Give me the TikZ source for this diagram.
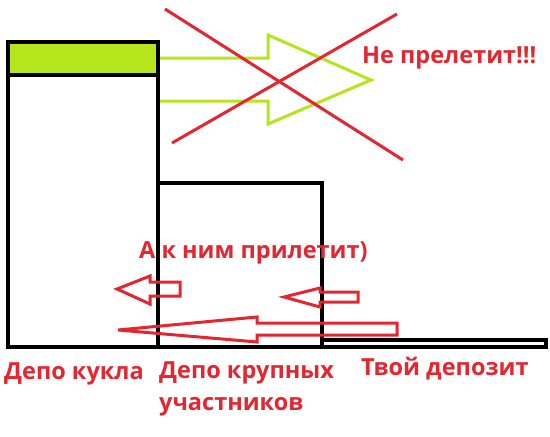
\documentclass[tikz,border=0pt]{standalone}
\usepackage{fontspec}
\setmainfont{Open Sans}
\begin{document}
\begin{tikzpicture}[x=1pt,y=-1pt,
  blk/.style={draw=black,line width=4pt},
  redarrow/.style={draw=myred,line width=3pt,line join=miter},
  grarrow/.style={draw=mygreen,line width=3pt},
  redline/.style={draw=myred,line width=3pt},
  lbl/.style={text=myred,font=\fontsize{23.5}{32}\selectfont\bfseries,inner sep=0pt,anchor=base west}]
\definecolor{myred}{RGB}{228,38,48}
\definecolor{mygreen}{RGB}{181,230,29}
\useasboundingbox[fill=white] (0,0) rectangle (550,437);
% boxes
\fill[mygreen] (8,42) rectangle (158,75);
\draw[blk] (8,42) rectangle (158,347);
\draw[blk] (8,75) -- (158,75);
\draw[blk] (158,183) rectangle (322,347);
\draw[blk,line width=3.5pt] (322,340) rectangle (546,347);
% green arrow
\draw[grarrow] (160,58) -- (268,58) -- (268,35) -- (371,80) -- (268,124) -- (268,101) -- (160,101);
% red cross
\draw[redline] (165,9) -- (403,160);
\draw[redline] (172,143) -- (397,14);
% red arrows
\draw[redarrow] (180,282) -- (150,282) -- (150,276) -- (117,289) -- (150,304) -- (150,296) -- (180,296) -- cycle;
\draw[redarrow] (358,292) -- (320,292) -- (320,288) -- (284,297) -- (320,307) -- (320,302) -- (358,302) -- cycle;
\draw[redarrow] (397,323) -- (257,323) -- (257,317) -- (118,330) -- (257,342) -- (257,335) -- (397,335) -- cycle;
% labels
\node[lbl] (ne) at (362,63) {Не прелетит!!!};
\node[lbl] (ak) at (139,258) {А к ним прилетит)};
\node[lbl] (dk) at (4,379) {Депо кукла};
\node[lbl] (dkr) at (159,378) {Депо крупных};
\node[lbl] (uch) at (159,410) {участников};
\node[lbl] (td) at (361,375) {Твой депозит};
\end{tikzpicture}
\end{document}
